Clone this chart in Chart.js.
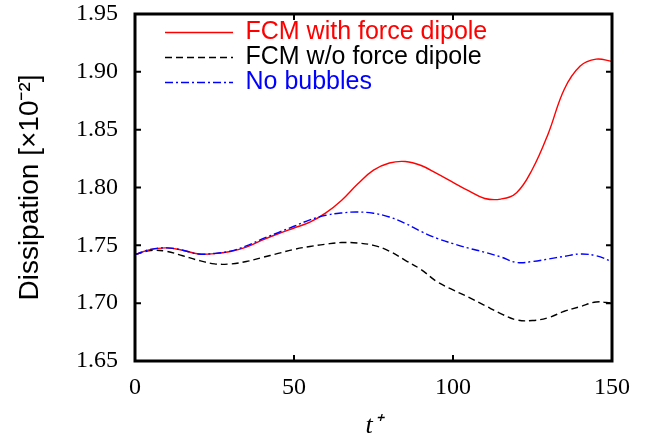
<!DOCTYPE html>
<html>
<head>
<meta charset="utf-8">
<script src="https://cdn.jsdelivr.net/npm/chart.js@4.4.1/dist/chart.umd.min.js"></script>
<style>
  html, body { margin: 0; padding: 0; background: #fff; }
  #wrap { width: 648px; height: 439px; }
</style>
</head>
<body>
<div id="wrap"><canvas id="c" width="648" height="439"></canvas></div>
<script>
// ---- data ----
const tPlus = [0, 5, 10, 15, 20, 25, 30, 35, 40, 45, 50, 55, 60, 65, 70, 75,
               80, 85, 90, 95, 100, 105, 110, 115, 120, 125, 130, 135, 140, 145, 150];

const fcmWithDipole = [1.742, 1.7465, 1.7478, 1.7458, 1.7425, 1.7428, 1.7447, 1.7485,
  1.7545, 1.760, 1.765, 1.770, 1.778, 1.789, 1.803, 1.815, 1.8212, 1.8225, 1.819,
  1.812, 1.8045, 1.797, 1.7905, 1.790, 1.7955, 1.816, 1.847, 1.885, 1.905, 1.911, 1.909];

const fcmWithoutDipole = [1.742, 1.7455, 1.7448, 1.741, 1.737, 1.734, 1.7339, 1.736,
  1.7395, 1.743, 1.7465, 1.749, 1.751, 1.7524, 1.752, 1.750, 1.745, 1.737, 1.729,
  1.7185, 1.7115, 1.705, 1.698, 1.691, 1.6855, 1.685, 1.6875, 1.693, 1.697, 1.701, 1.700];

const noBubbles = [1.742, 1.7465, 1.7478, 1.7458, 1.7425, 1.743, 1.745, 1.7495,
  1.7555, 1.761, 1.7665, 1.772, 1.776, 1.778, 1.7788, 1.7777, 1.7745, 1.769, 1.762,
  1.756, 1.7515, 1.7475, 1.744, 1.740, 1.7352, 1.736, 1.7382, 1.7405, 1.7425, 1.741, 1.736];

const seriesNames = ['FCM with force dipole', 'FCM w/o force dipole', 'No bubbles'];
const xTicks = [0, 50, 100, 150];
const yTicks = [1.65, 1.70, 1.75, 1.80, 1.85, 1.90, 1.95];

const toPts = (arr) => arr.map((v, i) => ({ x: tPlus[i], y: v }));

// frame + inward mirrored ticks
const framePlugin = {
  id: 'frame',
  afterDatasetsDraw(chart) {
    const { ctx, chartArea: a, scales } = chart;
    ctx.save();
    ctx.strokeStyle = '#000';
    ctx.lineWidth = 2;
    const L = 6;
    ctx.beginPath();
    scales.x.ticks.forEach(t => {
      const px = scales.x.getPixelForValue(t.value);
      ctx.moveTo(px, a.bottom); ctx.lineTo(px, a.bottom - L);
      ctx.moveTo(px, a.top); ctx.lineTo(px, a.top + L);
    });
    scales.y.ticks.forEach(t => {
      const py = scales.y.getPixelForValue(t.value);
      ctx.moveTo(a.left, py); ctx.lineTo(a.left + L, py);
      ctx.moveTo(a.right, py); ctx.lineTo(a.right - L, py);
    });
    ctx.stroke();
    ctx.lineWidth = 3;
    ctx.strokeRect(a.left, a.top, a.right - a.left, a.bottom - a.top);
    ctx.restore();
  },
  afterLayout(chart) {
    const lg = chart.legend;
    if (lg) {
      lg.left = 165;
      lg.top = 20;
    }
  }
};

new Chart(document.getElementById('c'), {
  type: 'line',
  data: {
    datasets: [
      { label: seriesNames[0], data: toPts(fcmWithDipole), borderColor: '#ff0000',
        backgroundColor: '#ff0000', borderWidth: 1.4, order: 1 },
      { label: seriesNames[1], data: toPts(fcmWithoutDipole), borderColor: '#000000',
        backgroundColor: '#000000', borderWidth: 1.4, borderDash: [7, 4], order: 2 },
      { label: seriesNames[2], data: toPts(noBubbles), borderColor: '#0000ff',
        backgroundColor: '#0000ff', borderWidth: 1.4, borderDash: [8, 3, 2, 3], order: 0 }
    ]
  },
  options: {
    responsive: false,
    animation: false,
    devicePixelRatio: 1,
    layout: { padding: { top: 14, right: 36, left: 0, bottom: 0 } },
    elements: {
      point: { radius: 0 },
      line: { tension: 0.4, fill: false }
    },
    plugins: {
      tooltip: { enabled: false },
      legend: {
        display: true,
        position: 'chartArea',
        align: 'start',
        labels: {
          usePointStyle: true,
          pointStyle: 'line',
          pointStyleWidth: 68,
          padding: 0,
          font: { family: '"Liberation Sans", Arial, sans-serif', size: 25 },
          generateLabels(chart) {
            const items = Chart.defaults.plugins.legend.labels.generateLabels(chart);
            items.sort((p, q) => p.datasetIndex - q.datasetIndex);
            items.forEach(it => {
              const ds = chart.data.datasets[it.datasetIndex];
              it.fontColor = ds.borderColor;
              it.strokeStyle = ds.borderColor;
              it.lineDash = ds.borderDash || [];
              it.lineWidth = ds.borderWidth;
            });
            return items;
          }
        }
      }
    },
    scales: {
      x: {
        type: 'linear',
        min: xTicks[0],
        max: xTicks[xTicks.length - 1],
        afterBuildTicks(s) { s.ticks = xTicks.map(v => ({ value: v })); },
        afterFit(s) { s.height = 78; s.paddingLeft = 0; s.paddingRight = 0; },
        grid: { display: false, drawTicks: false },
        border: { display: false },
        ticks: {
          padding: 12,
          color: '#000',
          font: { family: '"Liberation Serif", "Times New Roman", serif', size: 24 },
          callback: (v) => String(v)
        },
        title: {
          display: true,
          text: 't\u207A',
          color: '#000',
          padding: 0,
          font: { family: '"Liberation Serif", "Times New Roman", serif', size: 26, style: 'italic', lineHeight: 1 }
        }
      },
      y: {
        type: 'linear',
        min: yTicks[0],
        max: yTicks[yTicks.length - 1],
        afterBuildTicks(s) { s.ticks = yTicks.map(v => ({ value: v })); },
        afterFit(s) { s.width = 135; s.paddingTop = 0; s.paddingBottom = 0; },
        grid: { display: false, drawTicks: false },
        border: { display: false },
        ticks: {
          padding: 17,
          color: '#000',
          font: { family: '"Liberation Serif", "Times New Roman", serif', size: 24 },
          callback: (v) => Number(v).toFixed(2)
        },
        title: {
          display: true,
          text: 'Dissipation [\u00D710\u207B\u00B2]',
          color: '#000',
          padding: { top: 13, bottom: 0 },
          font: { family: '"Liberation Sans", Arial, sans-serif', size: 28 }
        }
      }
    }
  },
  plugins: [framePlugin]
});
</script>
</body>
</html>
